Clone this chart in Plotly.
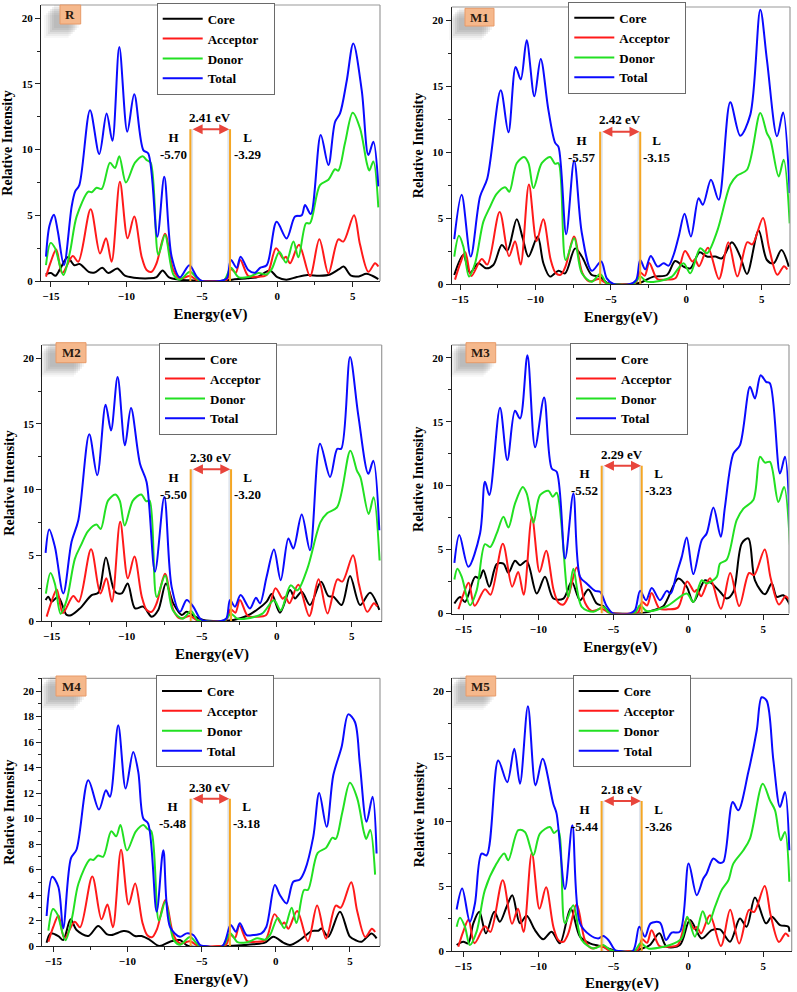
import plotly.graph_objects as go

W, H = 797, 992

# ---------------- data (energy eV, relative intensity) ----------------
acceptor = [(-15.33,0.33),(-15.0,1.5),(-14.65,2.4),(-14.25,0.6),(-13.56,1.9),(-13.19,1.47),(-12.37,5.45),
            (-11.75,2.1),(-11.35,3.25),(-10.98,1.47),(-10.43,7.55),(-9.92,3.25),(-9.48,4.9),(-8.99,1.85),
            (-8.66,0.84),(-8.33,0.7),(-8.0,1.35),(-7.44,3.6),(-6.89,0.84),(-6.45,0.2),(-5.78,0.38),(-5.34,0.08),
            (-5.0,0.0),(-3.8,0.0),(-3.35,0.1),(-3.07,0.9),(-2.75,0.63),(-2.45,1.6),(-1.92,0.38),(-1.36,0.33),
            (-0.7,0.46),(-0.08,2.5),(0.4,1.7),(0.58,1.85),(0.85,1.35),(1.44,2.75),(2.17,0.38),(2.79,3.17),
            (3.39,0.58),(4.05,3.17),(4.38,3.0),(5.09,5.0),(5.49,2.75),(6.04,0.7),(6.48,1.35),(6.7,1.1)]

donor_R = [(-15.33,1.2),(-15.02,2.9),(-14.73,2.5),(-14.18,0.45),(-13.74,2.2),(-13.3,4.9),(-12.52,6.8),
           (-12.3,6.75),(-11.97,7.1),(-11.64,7.0),(-11.09,9.0),(-10.76,8.6),(-10.47,9.5),(-10.03,7.5),
           (-9.43,9.0),(-8.92,9.5),(-8.66,9.2),(-8.39,9.0),(-7.88,2.0),(-7.44,3.5),(-6.89,0.5),(-6.45,0.1),
           (-5.78,0.7),(-5.12,0.0),(-3.57,0.0),(-3.07,1.0),(-2.58,0.3),(-1.92,0.3),(-1.25,0.6),(-0.7,0.5),
           (-0.37,0.9),(0.14,2.2),(0.58,1.4),(1.07,3.0),(1.4,1.8),(1.91,4.4),(2.17,4.4),(2.83,7.3),(3.39,7.7),
           (3.83,8.5),(4.05,8.4),(4.49,10.5),(5.0,12.8),(5.49,11.6),(5.93,9.0),(6.1,8.4),(6.37,9.1),(6.7,5.6)]

donor_M1 = [(-15.38,2.08),(-15.07,3.65),(-14.78,2.84),(-14.4,0.56),(-14.0,1.57),(-13.45,4.73),(-13.05,5.75),
            (-12.57,6.84),(-12.01,7.34),(-11.73,7.0),(-11.24,9.16),(-10.75,9.62),(-10.46,9.16),(-10.13,7.27),
            (-9.58,9.16),(-9.03,9.62),(-8.69,9.11),(-8.47,9.16),(-7.99,1.82),(-7.43,3.47),(-6.92,0.81),
            (-6.26,0.18),(-5.71,0.76),(-5.27,0.05),(-4.9,0.0),(-3.5,0.0),(-3.05,0.56),(-2.61,0.18),(-1.5,0.3),
            (-0.95,0.56),(-0.18,1.57),(0.27,0.81),(0.93,2.71),(1.37,2.33),(2.04,3.97),(2.92,7.52),(3.36,8.2),
            (4.03,8.66),(4.91,12.96),(5.35,11.44),(5.58,10.94),(6.13,8.15),(6.46,9.42),(6.86,4.6)]

donor_M3 = [(-15.6,2.66),(-15.4,3.5),(-15.11,2.87),(-14.56,0.65),(-14.11,1.83),(-13.56,5.42),(-13.22,5.2),
            (-12.78,6.26),(-12.33,7.56),(-12.0,6.73),(-11.56,8.6),(-11.04,9.9),(-10.78,9.4),(-10.33,7.1),
            (-9.89,9.26),(-9.33,9.6),(-9.04,9.13),(-8.78,9.44),(-8.0,1.3),(-7.67,3.5),(-7.11,0.52),(-6.33,0.13),
            (-5.67,0.52),(-5.22,0.0),(-3.6,0.0),(-3.22,0.65),(-2.78,0.2),(-1.44,0.57),(-0.11,1.56),(0.33,0.9),
            (0.89,2.6),(1.22,2.35),(1.89,2.87),(2.11,3.9),(2.56,4.22),(3.22,7.3),(3.67,8.2),(4.33,8.87),
            (4.78,12.26),(5.11,11.8),(5.44,11.86),(6.0,8.73),(6.38,9.9),(6.78,5.2)]

donor_M5 = [(-15.44,1.87),(-15.22,2.56),(-14.89,1.87),(-14.56,0.46),(-14.11,1.49),(-13.56,4.69),(-12.78,6.73),
            (-12.27,7.5),(-12.0,6.99),(-11.33,9.3),(-10.89,9.17),(-10.33,7.38),(-9.89,9.04),(-9.22,9.55),
            (-8.96,9.09),(-8.67,9.3),(-8.22,2.13),(-7.67,3.53),(-7.11,0.85),(-6.33,0.2),(-5.67,0.46),(-5.22,0.08),
            (-4.9,0.0),(-3.6,0.0),(-3.18,0.59),(-2.67,0.2),(-1.22,0.46),(-0.44,0.97),(-0.07,2.64),(0.44,1.1),
            (0.96,3.07),(1.33,2.07),(1.78,3.41),(2.22,4.69),(2.67,5.45),(3.0,6.73),(3.67,7.76),(4.11,8.66),
            (4.96,12.88),(5.44,11.6),(5.78,10.83),(6.16,8.53),(6.44,9.17),(6.73,5.33)]

R_core = [(-15.35,0.5),(-15.0,0.6),(-14.7,0.4),(-14.4,0.9),(-13.9,1.8),(-13.45,1.2),(-13.1,1.3),(-12.5,0.7),
          (-12.1,0.65),(-11.6,1.0),(-11.2,0.6),(-10.6,0.95),(-10.1,0.4),(-9.5,0.25),(-8.5,0.2),(-8.0,0.3),
          (-7.6,0.8),(-7.2,0.3),(-6.5,0.1),(-5.8,0.05),(-5.0,0.0),(-3.8,0.0),(-3.0,0.1),(-2.0,0.2),(-1.3,0.3),
          (-0.5,0.8),(0.0,0.3),(0.6,0.1),(1.3,0.3),(2.0,0.45),(2.8,0.4),(3.5,0.5),(4.1,0.9),(4.4,1.1),
          (4.9,0.4),(5.4,0.35),(5.9,0.55),(6.3,0.4),(6.7,0.15)]

R_total = [(-15.33,1.85),(-15.1,4.2),(-14.8,5.05),(-14.55,3.8),(-14.14,1.2),(-13.63,5.65),(-13.4,6.8),
           (-13.12,7.3),(-12.41,13.0),(-11.8,9.66),(-11.31,12.75),(-10.93,10.67),(-10.47,17.8),(-9.94,11.36),
           (-9.48,14.2),(-8.88,9.96),(-8.55,9.7),(-7.95,3.37),(-7.49,7.93),(-7.0,1.85),(-6.45,0.28),(-5.83,1.2),
           (-5.34,0.33),(-5.0,0.0),(-3.8,0.0),(-3.35,0.2),(-3.07,1.6),(-2.69,1.0),(-2.43,1.85),(-1.92,0.84),
           (-1.47,0.63),(-1.14,1.0),(-0.7,1.2),(-0.04,4.5),(0.62,3.24),(1.18,4.9),(1.62,5.0),(1.84,5.78),
           (2.22,5.1),(2.88,11.1),(3.39,8.82),(3.83,12.1),(4.16,12.75),(4.6,15.2),(5.04,18.07),(5.6,14.5),
           (6.04,9.58),(6.37,10.6),(6.7,7.2)]

M1_core = [(-15.38,0.68),(-14.78,2.2),(-14.34,0.86),(-13.78,1.57),(-13.27,1.19),(-12.79,1.44),(-12.23,2.96),
           (-11.86,2.53),(-11.24,4.91),(-10.84,3.47),(-10.46,2.08),(-9.85,3.6),(-9.47,1.57),(-9.03,0.56),
           (-8.47,1.0),(-8.03,0.8),(-7.37,2.7),(-6.92,2.08),(-6.26,0.68),(-5.71,0.56),(-5.27,0.1),(-4.8,0.0),
           (-3.6,0.0),(-3.05,0.1),(-2.17,0.56),(-1.28,0.68),(-0.73,1.75),(-0.18,1.32),(0.27,1.19),(0.89,2.4),
           (1.37,2.08),(1.92,2.08),(2.37,1.95),(3.03,3.16),(3.58,2.08),(4.03,0.76),(4.8,4.05),(5.35,1.82),
           (5.8,1.57),(6.31,2.58),(6.8,1.32)]

M1_total = [(-15.38,3.4),(-14.89,6.76),(-14.29,2.08),(-13.67,6.63),(-13.19,8.0),(-12.3,14.68),(-11.79,11.5),
            (-11.31,16.46),(-10.97,15.5),(-10.58,18.48),(-10.07,14.23),(-9.65,17.06),(-9.14,13.2),(-8.69,10.7),
            (-8.47,10.4),(-7.96,3.77),(-7.43,9.37),(-6.92,3.85),(-6.26,1.0),(-5.64,1.7),(-5.27,0.43),(-4.82,0.0),
            (-3.72,0.0),(-3.32,0.3),(-3.05,1.82),(-2.72,1.11),(-2.35,2.13),(-1.9,1.32),(-1.5,1.57),(-1.17,1.39),
            (-0.84,2.2),(-0.5,3.6),(-0.11,5.32),(0.31,3.6),(0.82,6.5),(1.1,6.0),(1.64,7.9),(2.15,6.38),
            (2.92,13.77),(3.58,11.24),(4.25,12.84),(4.91,20.8),(5.35,17.0),(6.02,11.2),(6.42,13.0),(6.86,6.9)]

M2_core = [(-15.4,1.6),(-15.22,1.85),(-15.0,1.47),(-14.56,1.85),(-14.0,0.46),(-13.67,0.46),(-13.11,0.96),
           (-12.33,1.97),(-11.89,2.15),(-11.38,4.84),(-10.78,2.23),(-10.33,2.1),(-9.93,2.86),(-9.44,0.96),
           (-8.89,1.09),(-8.33,0.33),(-7.89,0.84),(-7.38,2.86),(-6.89,1.34),(-6.33,0.46),(-6.0,0.7),(-5.44,0.33),
           (-4.89,0.07),(-3.5,0.0),(-2.89,0.07),(-2.0,0.38),(-1.33,0.84),(-0.67,1.47),(-0.33,2.05),(0.22,0.63),
           (0.89,2.35),(1.22,1.72),(1.67,2.23),(2.22,1.22),(2.96,2.99),(3.44,1.9),(3.78,1.85),(4.33,1.22),
           (4.89,3.42),(5.56,1.22),(6.22,2.15),(6.84,0.84)]

M2_total = [(-15.4,5.19),(-15.16,6.96),(-14.78,5.65),(-14.22,2.1),(-13.67,6.03),(-13.22,7.67),(-12.49,14.2),
            (-11.96,11.09),(-11.4,16.46),(-11.04,14.5),(-10.6,18.56),(-10.11,13.37),(-9.71,16.2),(-9.11,11.97),
            (-8.67,10.58),(-8.11,3.75),(-7.49,9.44),(-7.0,2.6),(-6.44,0.7),(-6.0,1.6),(-5.56,1.09),(-5.11,0.2),
            (-4.8,0.0),(-3.7,0.0),(-3.35,0.2),(-3.11,1.6),(-2.78,1.09),(-2.4,1.97),(-1.78,0.96),(-1.38,1.77),
            (-1.11,1.34),(-0.67,3.37),(-0.18,5.44),(0.27,3.11),(0.78,6.28),(1.11,5.52),(1.67,8.1),(2.22,5.39),
            (2.89,13.49),(3.56,10.96),(4.04,13.1),(4.3,13.1),(4.89,20.08),(5.44,15.65),(6.11,11.2),(6.44,12.2),
            (6.84,6.9)]

M3_core = [(-15.6,0.78),(-15.22,1.3),(-14.89,0.9),(-14.22,2.87),(-13.93,2.74),(-13.67,3.39),(-13.27,2.09),
           (-12.78,3.86),(-12.33,3.91),(-12.0,3.18),(-11.56,4.12),(-11.22,3.78),(-10.78,4.12),(-10.11,1.56),
           (-9.56,2.87),(-9.0,1.17),(-8.33,1.17),(-7.78,2.48),(-7.22,1.04),(-6.67,1.88),(-6.11,0.78),(-5.67,0.57),
           (-5.22,0.05),(-4.8,0.0),(-3.2,0.0),(-2.33,0.26),(-1.67,0.57),(-0.67,2.74),(-0.11,2.09),(0.33,0.9),
           (1.11,2.6),(1.56,2.35),(2.11,1.7),(2.56,1.17),(3.0,1.7),(3.56,5.48),(4.0,5.87),(4.44,2.6),(5.11,1.51),
           (5.56,2.35),(5.89,1.3),(6.33,1.43),(6.78,0.65)]

M3_total = [(-15.6,3.96),(-15.27,6.13),(-14.67,3.65),(-13.89,6.26),(-13.56,10.3),(-13.27,9.26),(-12.56,16.1),
            (-12.07,12.0),(-11.56,15.85),(-11.22,15.25),(-10.73,20.2),(-10.22,13.0),(-9.62,16.9),(-9.11,11.34),
            (-8.78,11.08),(-8.22,4.3),(-7.67,9.39),(-7.22,2.87),(-6.78,2.35),(-6.22,1.77),(-5.89,1.7),(-5.44,0.57),
            (-5.0,0.0),(-3.9,0.0),(-3.56,0.26),(-3.22,1.77),(-2.82,1.04),(-2.44,2.0),(-1.89,1.04),(-1.44,1.77),
            (-1.18,1.56),(-0.78,3.13),(-0.44,4.43),(-0.11,5.95),(0.33,3.08),(0.89,5.74),(1.22,6.26),(1.67,8.3),
            (2.16,6.0),(2.44,8.34),(3.0,12.5),(3.44,13.17),(4.11,17.73),(4.44,16.82),(4.82,18.64),(5.18,18.12),
            (5.44,18.0),(6.11,10.95),(6.44,12.26),(6.78,6.26)]

M4_core = [(-15.45,0.26),(-15.18,0.99),(-14.66,0.78),(-14.33,0.47),(-13.83,2.09),(-13.43,1.25),(-12.64,0.78),
           (-11.97,1.57),(-11.4,0.94),(-11.07,0.86),(-10.28,1.17),(-9.94,1.12),(-9.49,0.78),(-9.04,0.78),
           (-8.48,0.47),(-7.85,0.0),(-7.13,0.34),(-6.46,0.47),(-5.9,0.0),(-3.2,0.0),(-1.52,0.13),(-0.73,0.26),
           (-0.16,0.73),(0.51,0.26),(0.96,0.08),(1.63,0.47),(2.42,1.17),(2.87,1.2),(3.09,1.38),(3.54,0.73),
           (4.33,2.69),(5.0,0.73),(5.45,0.42),(5.79,0.34),(6.46,0.99),(6.8,0.6)]

M4_total = [(-15.45,2.35),(-15.07,5.43),(-14.66,4.65),(-14.33,1.38),(-13.81,6.87),(-13.43,7.57),(-12.64,13.0),
            (-11.92,10.7),(-11.45,12.22),(-11.18,11.7),(-10.62,17.31),(-10.12,12.35),(-9.61,15.22),(-9.27,13.66),
            (-8.93,10.0),(-8.6,9.6),(-8.03,2.69),(-7.58,7.52),(-7.13,1.51),(-6.46,0.73),(-6.01,0.99),(-5.56,0.86),
            (-5.1,0.08),(-4.8,0.0),(-3.6,0.0),(-3.04,1.64),(-2.69,1.12),(-2.42,1.78),(-1.97,0.86),(-1.52,0.86),
            (-0.96,0.99),(-0.63,1.51),(-0.06,4.78),(0.28,4.0),(0.73,3.34),(1.18,5.04),(1.63,5.22),(1.97,5.95),
            (2.53,8.56),(2.93,12.0),(3.43,9.35),(3.88,13.39),(4.44,15.61),(4.89,18.17),(5.34,17.57),(5.67,14.31),
            (6.12,9.74),(6.53,11.7),(6.8,7.26)]

M5_core = [(-15.44,0.46),(-15.0,0.72),(-14.67,0.59),(-14.33,2.13),(-13.93,3.02),(-13.49,1.36),(-12.93,3.02),
           (-12.56,2.25),(-12.11,3.41),(-11.73,4.3),(-11.22,2.13),(-10.78,2.71),(-10.22,1.61),(-9.67,0.9),
           (-9.11,1.49),(-8.56,0.59),(-7.84,3.28),(-7.22,1.1),(-6.56,0.59),(-5.89,0.38),(-5.33,0.2),(-4.8,0.0),
           (-3.6,0.0),(-3.22,0.13),(-2.56,0.46),(-1.93,1.36),(-1.44,0.33),(-0.56,0.46),(0.11,2.38),(0.89,0.97),
           (1.56,1.61),(2.11,1.66),(2.78,0.72),(3.44,2.51),(3.89,1.87),(4.44,4.12),(5.18,2.13),(5.56,2.64),
           (6.11,2.0),(6.67,1.87),(6.73,1.49)]

M5_total = [(-15.44,3.2),(-15.07,4.81),(-14.56,2.25),(-14.22,3.66),(-13.78,7.5),(-13.44,7.37),(-12.67,14.67),
            (-12.07,13.0),(-11.6,15.57),(-11.22,12.88),(-10.69,18.85),(-10.18,12.75),(-9.71,14.8),(-9.0,11.34),
            (-8.78,10.58),(-8.22,4.76),(-7.73,9.68),(-7.22,2.13),(-6.56,1.23),(-6.0,0.97),(-5.67,1.15),(-5.33,0.85),
            (-4.89,0.08),(-4.6,0.0),(-3.7,0.0),(-3.27,1.87),(-2.89,1.1),(-2.51,2.13),(-1.89,2.18),(-1.49,0.85),
            (-1.11,1.41),(-0.56,1.49),(0.02,6.73),(0.56,4.3),(1.0,5.58),(1.22,5.97),(1.67,7.12),(2.07,6.79),
            (2.33,6.86),(2.96,11.47),(3.33,10.83),(4.0,13.78),(4.56,16.98),(4.89,19.54),(5.22,19.28),(5.67,14.67),
            (6.11,11.09),(6.44,12.24),(6.73,7.76)]

panel_names = ["R", "M1", "M2", "M3", "M4", "M5"]
core_series = [R_core, M1_core, M2_core, M3_core, M4_core, M5_core]
acceptor_series = [acceptor] * 6
donor_series = [donor_R, donor_M1, donor_M1, donor_M3, donor_R, donor_M5]
total_series = [R_total, M1_total, M2_total, M3_total, M4_total, M5_total]
series_names = ["Core", "Acceptor", "Donor", "Total"]
homo_values = ["-5.70", "-5.57", "-5.50", "-5.52", "-5.48", "-5.44"]
lumo_values = ["-3.29", "-3.15", "-3.20", "-3.23", "-3.18", "-3.26"]
gap_values = ["2.41", "2.42", "2.30", "2.29", "2.30", "2.18"]
homo_line_x = [-5.76, -5.71, -5.73, -5.78, -5.74, -5.78]
lumo_line_x = [-3.13, -3.05, -3.04, -3.11, -3.09, -3.11]
gap_top = 11.55

# ---------------- layout geometry (pixels) ----------------
rects = [(41, 5, 380, 281), (451.7, 7, 790, 284), (42.3, 345, 381.7, 621),
         (451.7, 345, 789, 613.5), (42.3, 678.3, 380, 946), (452.3, 678.3, 791.7, 951)]
xranges = [(-15.66, 6.81), (-15.55, 6.88), (-15.62, 7.0), (-15.78, 6.71), (-15.74, 7.03), (-15.73, 6.89)]
legend_pos = [(156.7, 2.7), (568.3, 1.7), (159, 342.7), (570, 342.7), (156, 675), (572.7, 675)]
label_box = [(60, 5, 80.7, 24), (465, 8.3, 494, 26), (56, 342.7, 86, 362.7),
             (466, 342.7, 495.7, 362.7), (56, 676, 86, 696), (466, 676, 495.7, 696)]

FONT = "Liberation Serif"
colors = {"Core": "#000000", "Acceptor": "#ff1a1a", "Donor": "#22e022", "Total": "#0a0aff"}
NB = "\u00a0"

def pxx(x):
    return x / W

def pxy(y):
    return 1 - y / H

fig = go.Figure()
layout = dict(width=W, height=H, margin=dict(l=0, r=0, t=0, b=0), paper_bgcolor="white",
              plot_bgcolor="white", showlegend=True, shapes=[], annotations=[],
              font=dict(family=FONT, color="black"))

for i in range(6):
    k = "" if i == 0 else str(i + 1)
    xa, ya = "x" + k, "y" + k
    leg = "legend" + k
    series = [core_series[i], acceptor_series[i], donor_series[i], total_series[i]]
    for name, pts in zip(series_names, series):
        E = [p[0] for p in pts]
        I = [p[1] for p in pts]
        fig.add_trace(go.Scatter(x=E, y=I, mode="lines", name=name + NB * 3, xaxis=xa, yaxis=ya,
                                 legend=leg, line=dict(color=colors[name], width=2,
                                                       shape="spline", smoothing=0.9)))
    l, t, r, b = rects[i]
    dtick = 2 if i == 4 else 5
    layout["xaxis" + k] = dict(domain=[pxx(l), pxx(r)], range=list(xranges[i]), anchor=ya,
                               showline=True, linecolor="#222", linewidth=1.3, ticks="outside",
                               ticklen=5, tickwidth=1.2, tickcolor="#222", dtick=5, tick0=0,
                               minor=dict(ticks="outside", ticklen=3, dtick=2.5, tickcolor="#222"),
                               showgrid=False, zeroline=False, fixedrange=True,
                               tickfont=dict(family=FONT, size=11, weight="bold"),
                               title=dict(text="Energy(eV)", standoff=7,
                                          font=dict(family=FONT, size=15, weight="bold")),
                               automargin=False)
    layout["yaxis" + k] = dict(domain=[pxy(b), pxy(t)], range=[0, 21], anchor=xa,
                               showline=True, linecolor="#222", linewidth=1.3, ticks="outside",
                               ticklen=5, tickwidth=1.2, tickcolor="#222", dtick=dtick, tick0=0,
                               minor=dict(ticks="outside", ticklen=3, dtick=dtick / 2, tickcolor="#222"),
                               showgrid=False, zeroline=False, fixedrange=True,
                               tickfont=dict(family=FONT, size=11, weight="bold"),
                               title=dict(text="Relative Intensity", standoff=5,
                                          font=dict(family=FONT, size=14, weight="bold")),
                               automargin=False)
    for (x0, y0, x1, y1) in [(0, 1, 1, 1), (1, 0, 1, 1)]:
        layout["shapes"].append(dict(type="line", xref=xa + " domain", yref=ya + " domain",
                                     x0=x0, y0=y0, x1=x1, y1=y1, line=dict(color="#9a9a9a", width=1.2)))
    lx, ly = legend_pos[i]
    layout[leg] = dict(x=pxx(lx), y=pxy(ly), xanchor="left", yanchor="top", bgcolor="white",
                       bordercolor="#6a6a6a", borderwidth=1, itemwidth=40,
                       font=dict(family=FONT, size=13, weight="bold", color="black"))
    hx, lxl = homo_line_x[i], lumo_line_x[i]
    for x0, x1 in [(hx, hx + 0.18), (lxl - 0.18, lxl)]:
        layout["shapes"].append(dict(type="rect", xref=xa, yref=ya, x0=x0, x1=x1, y0=0, y1=gap_top,
                                     fillcolor="rgba(150,170,200,0.3)", line=dict(width=0), layer="below"))
    for xv in (hx, lxl):
        layout["shapes"].append(dict(type="line", xref=xa, yref=ya, x0=xv, x1=xv, y0=0, y1=gap_top,
                                     line=dict(color="#f5a623", width=2)))
    layout["annotations"].append(dict(x=lxl - 0.05, y=gap_top, ax=hx + 0.05, ay=gap_top, xref=xa, yref=ya,
                                      axref=xa, ayref=ya, text="", showarrow=True, arrowhead=2,
                                      arrowside="end+start", arrowsize=1, arrowwidth=2,
                                      arrowcolor="#e8453c"))
    layout["annotations"].append(dict(x=(hx + lxl) / 2, y=gap_top + 0.9, xref=xa, yref=ya,
                                      text=gap_values[i] + " eV", showarrow=False,
                                      font=dict(family=FONT, size=13, weight="bold")))
    layout["annotations"].append(dict(x=-6.9, y=10.25, xref=xa, yref=ya,
                                      text="H<br>" + homo_values[i], showarrow=False,
                                      font=dict(family=FONT, size=13, weight="bold")))
    layout["annotations"].append(dict(x=-1.95, y=10.25, xref=xa, yref=ya,
                                      text="L<br>" + lumo_values[i], showarrow=False,
                                      font=dict(family=FONT, size=13, weight="bold")))
    bx0, by0, bx1, by1 = label_box[i]
    for off, op in [(13, 0.04), (11, 0.06), (9, 0.08), (7, 0.09), (5, 0.08), (3, 0.06)]:
        layout["shapes"].append(dict(type="rect", xref="paper", yref="paper",
                                     x0=pxx(bx0 - off - 3), x1=pxx(bx1 - off + 1),
                                     y0=pxy(by1 + off + 1), y1=pxy(by0 + off - 3),
                                     fillcolor="rgba(60,60,60,%.2f)" % op, line=dict(width=0)))
    layout["shapes"].append(dict(type="rect", xref="paper", yref="paper",
                                 x0=pxx(bx0), x1=pxx(bx1), y0=pxy(by1), y1=pxy(by0),
                                 fillcolor="#f5b88c", line=dict(color="#e89a68", width=1)))
    layout["annotations"].append(dict(x=pxx((bx0 + bx1) / 2), y=pxy((by0 + by1) / 2),
                                      xref="paper", yref="paper", xanchor="center", yanchor="middle",
                                      text=panel_names[i], showarrow=False,
                                      font=dict(family=FONT, size=13, weight="bold", color="#2a1a10")))

fig.update_layout(**layout)
fig.write_html("out.html", config={"displayModeBar": False},
               post_script="document.body.style.margin='0px';document.body.style.overflow='hidden';")
